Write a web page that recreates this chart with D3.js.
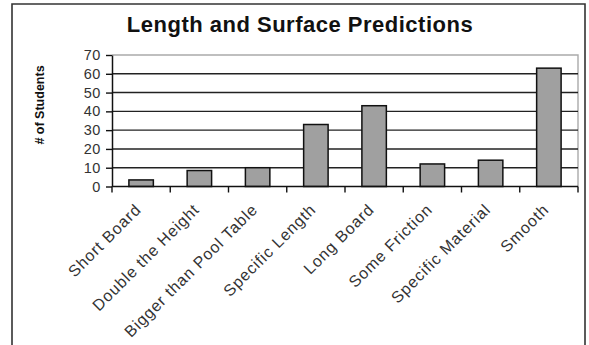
<!DOCTYPE html>
<html><head><meta charset="utf-8">
<script src="https://cdn.jsdelivr.net/npm/d3@7"></script>
<style>
html,body{margin:0;padding:0;background:#fff;}
svg{display:block;}
text{font-family:"Liberation Sans",Arial,sans-serif;}
</style></head>
<body>
<svg id="chart" width="589" height="345"></svg>
<script>
const title = "Length and Surface Predictions";
const yTitle = "# of Students";
const categories = ["Short Board","Double the Height","Bigger than Pool Table","Specific Length","Long Board","Some Friction","Specific Material","Smooth"];
const values = [3.5, 8.5, 10, 33, 43, 12, 14, 63];
const yTicks = [0,10,20,30,40,50,60,70];

const svg = d3.select("#chart");
const W = 589, H = 345;
const plot = {left:112, right:578, top:55, bottom:186.5};

// outer chart border (open at bottom)
svg.append("path")
  .attr("d", `M12,${H+2} L12,4 L585,4 L585,${H+2}`)
  .attr("fill","none").attr("stroke","#333").attr("stroke-width",1.6);

svg.append("text").attr("x",300).attr("y",32).attr("text-anchor","middle")
  .attr("font-size",22).attr("font-weight","bold").attr("letter-spacing",0.5)
  .attr("fill","#111").text(title);

const x = d3.scaleBand().domain(categories).range([plot.left, plot.right]).paddingInner(0.58).paddingOuter(0.29);
const xb = d3.scaleBand().domain(categories).range([plot.left, plot.right]);
const y = d3.scaleLinear().domain([0,70]).range([plot.bottom, plot.top]);

// plot area border (top & right, gray)
svg.append("path")
  .attr("d", `M${plot.left},${plot.top} L${plot.right},${plot.top} L${plot.right},${plot.bottom}`)
  .attr("fill","none").attr("stroke","#aaa").attr("stroke-width",1.4);

// gridlines
svg.append("g").selectAll("line").data(yTicks.filter(t=>t>0 && t<70)).join("line")
  .attr("x1",plot.left).attr("x2",plot.right)
  .attr("y1",d=>y(d)).attr("y2",d=>y(d))
  .attr("stroke","#222").attr("stroke-width",1.4);

// bars
svg.append("g").selectAll("rect").data(values).join("rect")
  .attr("x",(d,i)=>x(categories[i]))
  .attr("width",x.bandwidth())
  .attr("y",d=>y(d))
  .attr("height",d=>y(0)-y(d))
  .attr("fill","#a0a0a0").attr("stroke","#111").attr("stroke-width",1.5);

// y axis
const yAxis = d3.axisLeft(y).tickValues(yTicks).tickSize(6).tickPadding(5).tickSizeOuter(0);
const gy = svg.append("g").attr("transform",`translate(${plot.left},0)`).call(yAxis);
gy.select(".domain").attr("stroke","#111").attr("stroke-width",1.5);
gy.selectAll(".tick line").attr("stroke","#111").attr("stroke-width",1.4);
gy.selectAll(".tick text").attr("font-size",14.5).attr("fill","#333")
  .attr("font-family","Liberation Sans, Arial, sans-serif").attr("letter-spacing",0.6);

// x axis line
svg.append("line").attr("x1",plot.left).attr("x2",plot.right)
  .attr("y1",y(0)).attr("y2",y(0)).attr("stroke","#111").attr("stroke-width",1.5);
// x ticks at category boundaries
const bounds = categories.map(c=>xb(c)).concat([plot.right]);
svg.append("g").selectAll("line").data(bounds).join("line")
  .attr("x1",d=>d).attr("x2",d=>d).attr("y1",y(0)).attr("y2",y(0)+6)
  .attr("stroke","#111").attr("stroke-width",1.4);

// x labels
svg.append("g").selectAll("text").data(categories).join("text")
  .attr("transform",c=>`translate(${xb(c)+xb.bandwidth()/2+1},${y(0)+24}) rotate(-45)`)
  .attr("text-anchor","end").attr("font-size",16).attr("letter-spacing",0.9)
  .attr("fill","#333").text(c=>c);

// y title
svg.append("text").attr("transform",`translate(44,105) rotate(-90)`)
  .attr("text-anchor","middle").attr("font-size",12.5).attr("font-weight","bold")
  .attr("fill","#111").text(yTitle);
</script>
</body></html>
